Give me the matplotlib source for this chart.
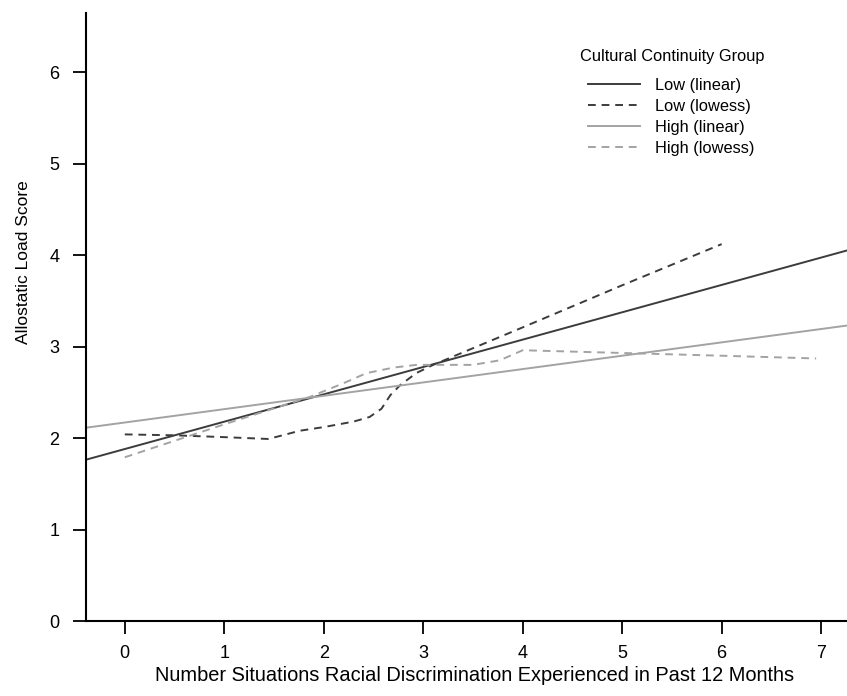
import numpy as np
import matplotlib.pyplot as plt

plt.rcParams['font.family'] = ['Liberation Sans', 'DejaVu Sans']

# linear fits (intercept, slope)
low_lin = (1.88, 0.299)
high_lin = (2.17, 0.146)

# lowess curves
low_x = [0, 0.5, 1.0, 1.44, 1.55, 1.76, 2.0, 2.3, 2.46, 2.58, 2.67, 2.77, 2.93, 3.1, 4.0, 5.0, 6.0]
low_y = [2.04, 2.03, 2.01, 1.99, 2.02, 2.08, 2.12, 2.18, 2.23, 2.32, 2.47, 2.58, 2.71, 2.80, 3.21, 3.67, 4.12]

high_x = [0, 1.0, 1.86, 2.2, 2.43, 2.7, 2.93, 3.2, 3.5, 3.77, 4.0, 5.0, 6.0, 6.95]
high_y = [1.79, 2.15, 2.45, 2.6, 2.71, 2.77, 2.80, 2.80, 2.80, 2.85, 2.96, 2.93, 2.90, 2.87]

xticks = [0, 1, 2, 3, 4, 5, 6, 7]
yticks = [0, 1, 2, 3, 4, 5, 6]

dark = '#3c3c3c'
light = '#a3a3a3'

fig = plt.figure(figsize=(8.47, 6.96), dpi=100)
ax = fig.add_axes([86/847, 75/696, 1 - 86/847, (621 - 12.7)/696])

ax.axline((0, low_lin[0]), slope=low_lin[1], color=dark, lw=1.4, label='Low (linear)')
ax.plot(low_x, low_y, color=dark, lw=1.4, ls=(0, (4, 3)), label='Low (lowess)')
ax.axline((0, high_lin[0]), slope=high_lin[1], color=light, lw=1.4, label='High (linear)')
ax.plot(high_x, high_y, color=light, lw=1.4, ls=(0, (4, 3)), label='High (lowess)')

ax.set_xlim(-0.39, 7.26)
ax.set_ylim(0, 6.65)
ax.set_xticks(xticks)
ax.set_yticks(yticks)
ax.tick_params(length=9.5, width=1.3, labelsize=13)
ax.tick_params(axis='y', pad=9.5)
ax.tick_params(axis='x', pad=7.5)
for s in ['top', 'right']:
    ax.spines[s].set_visible(False)
for s in ['left', 'bottom']:
    ax.spines[s].set_linewidth(1.5)

ax.set_xlabel('Number Situations Racial Discrimination Experienced in Past 12 Months', fontsize=14.4)
ax.set_ylabel('Allostatic Load Score', fontsize=12.5)
ax.yaxis.set_label_coords(-0.072, 0.59)
ax.xaxis.set_label_coords(0.51, -0.074)

leg = ax.legend(loc='upper left', bbox_to_anchor=(0.64, 0.917), frameon=False,
                fontsize=11.8, handlelength=3.2, handletextpad=0.9,
                labelspacing=0.37)
fig.text(672.5/847, 1 - 56.7/696, 'Cultural Continuity Group', fontsize=11.8,
         ha='center', va='center')

fig.savefig('out.png', dpi=100)
